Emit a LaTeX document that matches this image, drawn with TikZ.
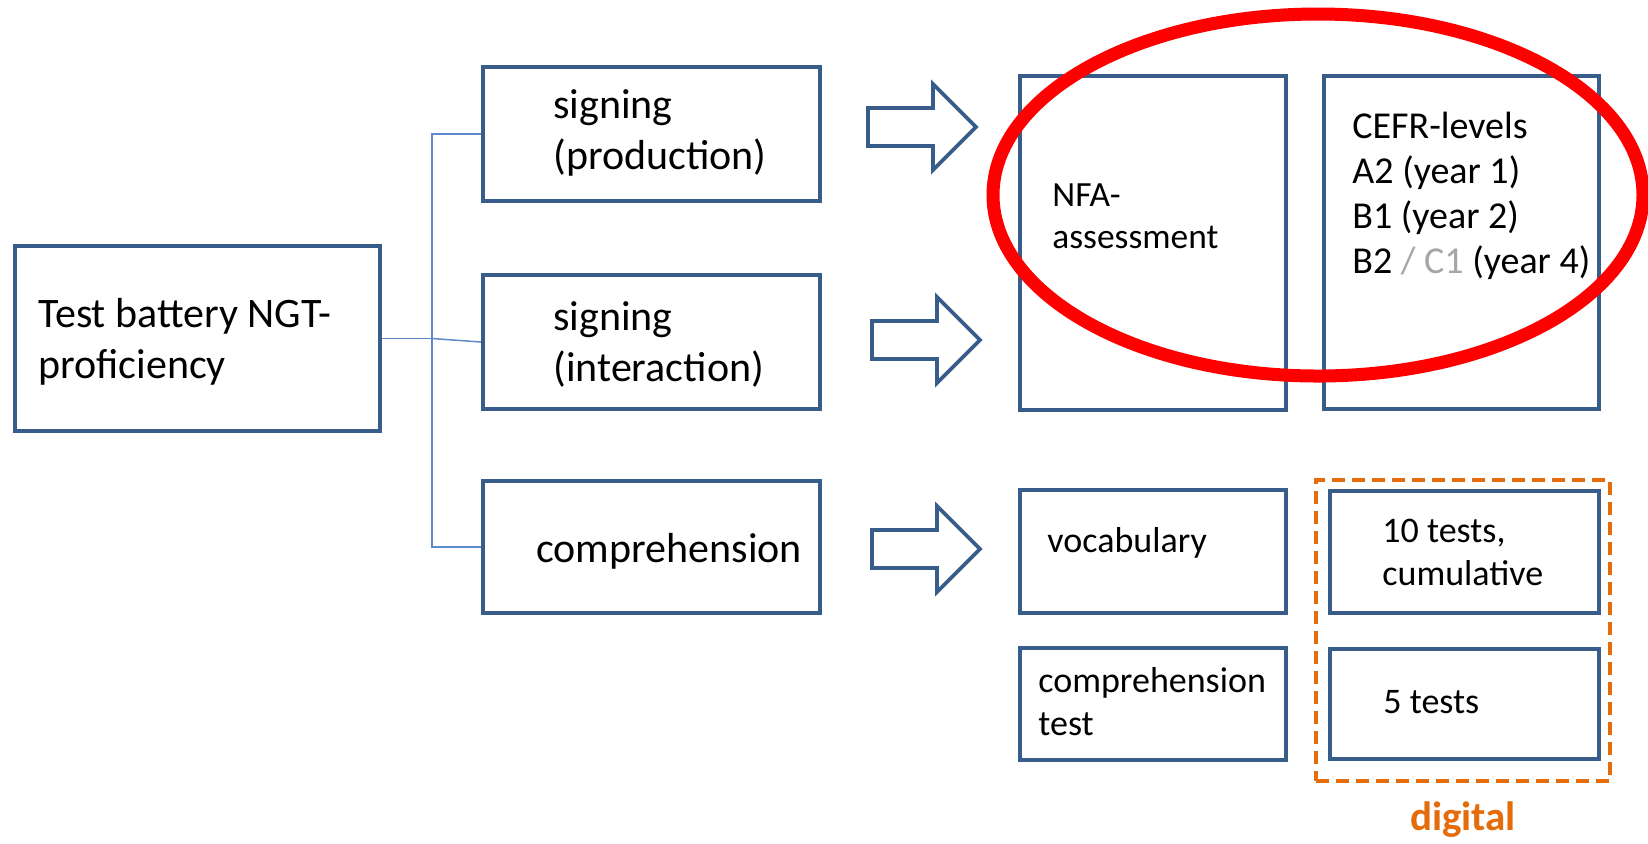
\documentclass[tikz,border=0pt]{standalone}
\usepackage{fontspec}
\setmainfont{Carlito}
\usetikzlibrary{shapes.geometric}
\definecolor{boxblue}{HTML}{385D8A}
\definecolor{connblue}{HTML}{5B8BC9}
\definecolor{digorange}{HTML}{E46C0A}
\definecolor{lightgray}{HTML}{A6A6A6}
\newcommand\mylines[1]{\parbox[t]{300pt}{\raggedright #1}}
\newcommand\blkarrow[2]{\draw[barrow] (#1-108,#2-19) -- (#1-43,#2-19) -- (#1-43,#2-43) -- (#1,#2) -- (#1-43,#2+43) -- (#1-43,#2+19) -- (#1-108,#2+19) -- cycle;}
\begin{document}
\begin{tikzpicture}[x=0.5pt,y=-0.5pt,
  box/.style={draw=boxblue, line width=2.2pt, inner sep=0pt, rectangle},
  conn/.style={draw=connblue, line width=0.75pt},
  barrow/.style={draw=boxblue, line width=1.9pt, line join=miter},
  txt/.style={anchor=base west, inner sep=0pt, text=black},
  fA/.style={font=\fontsize{21}{25.5}\selectfont},
  fC/.style={font=\fontsize{19}{22.5}\selectfont},
  fN/.style={font=\fontsize{17.7}{21}\selectfont},
  fB/.style={font=\fontsize{18}{21.5}\selectfont}]
\useasboundingbox[fill=white] (0,0) rectangle (1648,843);

% boxes
\node[box, minimum width=182.5pt, minimum height=92.5pt] (tb) at (197.5,338.5) {};
\node[box, minimum width=168.5pt, minimum height=67pt] (sp) at (651.5,134) {};
\node[box, minimum width=168.5pt, minimum height=67pt] (si) at (651.5,342) {};
\node[box, minimum width=168.5pt, minimum height=66pt] (sc) at (651.5,547) {};
\node[box, minimum width=133pt, minimum height=167pt] (nfa) at (1153,243) {};
\node[box, minimum width=137.5pt, minimum height=166.5pt] (cefr) at (1461.5,242.5) {};
\node[box, minimum width=133pt, minimum height=61.5pt] (voc) at (1153,551.5) {};
\node[box, minimum width=133pt, minimum height=56pt] (ct) at (1153,704) {};
\node[box, minimum width=134.5pt, minimum height=61pt] (t10) at (1464.5,552) {};
\node[box, minimum width=134.5pt, minimum height=55pt] (t5) at (1464.5,704) {};
\node[draw=digorange, line width=2pt, dash pattern=on 6.5pt off 3.5pt, inner sep=0pt,
  minimum width=147pt, minimum height=150.5pt] (dig) at (1463,630.5) {};

% connectors
\coordinate (j) at (432,338.5);
\draw[conn] (tb.east) -- (j);
\draw[conn] (j) |- (sp.west);
\draw[conn] (j) |- (sc.west);
\draw[conn] (j) -- (si.west);

% block arrows
\blkarrow{976}{127}
\blkarrow{980}{340}
\blkarrow{980}{549}

% texts
\node[txt, fA] (tbt) at (38,327) {\mylines{Test battery NGT-\\proficiency}};
\node[txt, fA] (spt) at (553,118) {\mylines{signing\\(production)}};
\node[txt, fA] (sit) at (553,330) {\mylines{signing\\(interaction)}};
\node[txt, fA] (sct) at (536,562) {comprehension};
\node[txt, fN] (nfat) at (1052,206) {\mylines{NFA-\\assessment}};
\node[txt, fC] (cefrt) at (1352,138) {\mylines{CEFR-levels\\A2 (year 1)\\B1 (year 2)\\B2 \textcolor{lightgray}{/ C1} (year 4)}};
\node[txt, fB] (voct) at (1047,552) {vocabulary};
\node[txt, fB] (ctt) at (1038,692) {\mylines{comprehension\\test}};
\node[txt, fB] (t10t) at (1382,542) {\mylines{10 tests,\\cumulative}};
\node[txt, fB] (t5t) at (1383,713) {5 tests};
\node[anchor=base, inner sep=0pt, text=digorange, font=\bfseries\fontsize{20.5}{24}\selectfont] (digt) at (1463,830) {digital};

% red ellipse
\node[ellipse, draw=red, line width=6.5pt, inner sep=0pt, minimum width=325pt, minimum height=181pt] (ell) at (1318,195) {};
\end{tikzpicture}
\end{document}
